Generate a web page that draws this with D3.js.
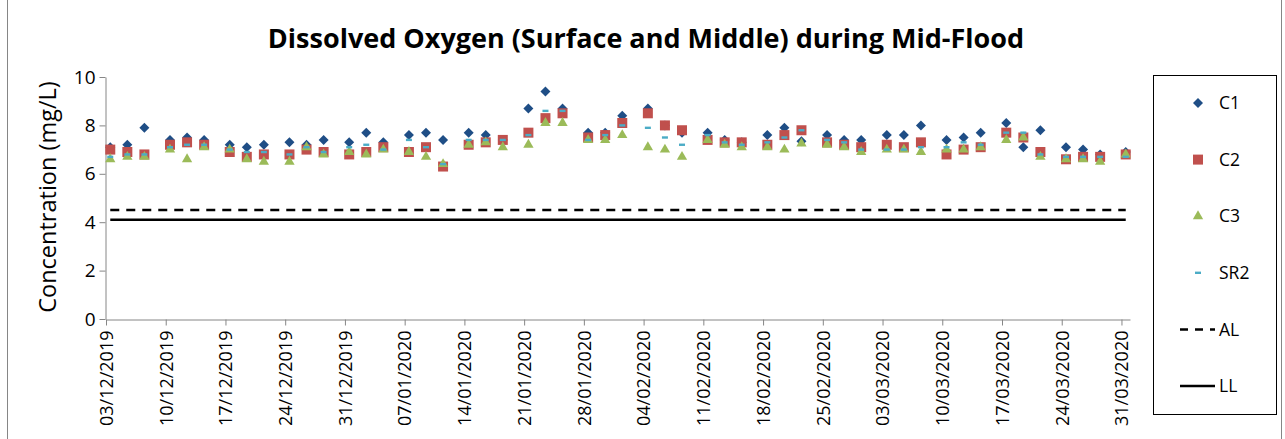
<!DOCTYPE HTML>
<html>
<head>
<meta charset="utf-8">
<script type="text/javascript" src="https://d3js.org/d3.v7.min.js"></script>
<style>
  body { margin: 0; background: #fff; }
  text { font-family: "Open Sans", sans-serif; fill: #000; }
</style>
</head>
<body>
<div id="chart"></div>
<script type="text/javascript">
// sampling dates (dd/mm/yyyy as on the sheet)
var sampleDates = ["03/12/2019","05/12/2019","07/12/2019","10/12/2019","12/12/2019","14/12/2019","17/12/2019","19/12/2019","21/12/2019",
  "24/12/2019","26/12/2019","28/12/2019","31/12/2019","02/01/2020","04/01/2020","07/01/2020","09/01/2020","11/01/2020",
  "14/01/2020","16/01/2020","18/01/2020","21/01/2020","23/01/2020","25/01/2020","28/01/2020","30/01/2020","01/02/2020",
  "04/02/2020","06/02/2020","08/02/2020","11/02/2020","13/02/2020","15/02/2020","18/02/2020","20/02/2020","22/02/2020",
  "25/02/2020","27/02/2020","29/02/2020","03/03/2020","05/03/2020","07/03/2020","10/03/2020","12/03/2020","14/03/2020",
  "17/03/2020","19/03/2020","21/03/2020","24/03/2020","26/03/2020","28/03/2020","31/03/2020"];

var c1 = [7.1,7.2,7.9,7.4,7.5,7.4,7.2,7.1,7.2,7.3,7.2,7.4,7.3,7.7,7.3,7.6,7.7,7.4,7.7,7.6,7.4,8.7,9.4,8.7,7.7,7.7,
  8.4,8.7,8.0,7.7,7.7,7.4,7.3,7.6,7.9,7.35,7.6,7.4,7.4,7.6,7.6,8.0,7.4,7.5,7.7,8.1,7.1,7.8,7.1,7.0,6.8,6.9];
var c2 = [7.0,6.9,6.8,7.2,7.3,7.2,6.9,6.7,6.8,6.8,7.0,6.9,6.8,6.9,7.1,6.9,7.1,6.3,7.2,7.3,7.4,7.7,8.3,8.5,7.5,7.6,
  8.1,8.5,8.0,7.8,7.4,7.3,7.3,7.2,7.6,7.8,7.3,7.2,7.1,7.2,7.1,7.3,6.8,7.0,7.1,7.7,7.5,6.9,6.6,6.7,6.7,6.8];
var c3 = [6.6,6.7,6.7,7.0,6.6,7.1,7.0,6.6,6.5,6.5,7.1,6.8,6.9,6.8,7.0,6.9,6.7,6.4,7.2,7.3,7.1,7.2,8.1,8.1,7.4,7.4,
  7.6,7.1,7.0,6.7,7.4,7.2,7.1,7.1,7.0,7.25,7.2,7.1,6.9,7.0,7.0,6.9,7.0,7.0,7.1,7.4,7.5,6.7,6.6,6.6,6.5,6.8];
var sr2 = [6.7,6.8,6.8,7.1,7.2,7.2,7.0,6.9,6.9,6.8,7.1,6.9,7.1,7.2,7.0,7.4,7.1,6.4,7.4,7.4,7.4,7.6,8.6,8.6,7.4,7.6,
  8.0,7.9,7.5,7.2,7.6,7.3,7.2,7.3,7.5,7.8,7.4,7.3,7.0,7.0,7.0,7.1,7.1,7.3,7.2,7.7,7.7,6.8,6.7,6.7,6.7,6.7];
var alLevel = 4.5;   // action level
var llLevel = 4.1;   // limit level
var yTicks = [0, 2, 4, 6, 8, 10];
var seriesNames = ["C1", "C2", "C3", "SR2", "AL", "LL"];

var parse = d3.timeParse("%d/%m/%Y");
var fmt = d3.timeFormat("%d/%m/%Y");
var dates = sampleDates.map(parse);

var W = 1285, H = 439;
var svg = d3.select("#chart").append("svg").attr("width", W).attr("height", H);

// outer chart frame
svg.append("rect").attr("x", 7.5).attr("y", -2).attr("width", 1274).attr("height", H + 4)
  .attr("fill", "none").attr("stroke", "#868686").attr("stroke-width", 1);

var x = d3.scaleTime().domain([parse("03/12/2019"), parse("01/04/2020")]).range([106, 1130]);
var y = d3.scaleLinear().domain([0, 10]).range([319, 77]);
// Excel date axis puts markers between tick marks (half a day in)
var xp = function(d) { return x(d3.timeHour.offset(d, 12)); };

svg.append("text").attr("x", 646).attr("y", 48).attr("text-anchor", "middle")
  .style("font-size", "27px").style("font-weight", "bold")
  .text("Dissolved Oxygen (Surface and Middle) during Mid-Flood");

// axes
var xTicks = d3.timeDay.range(parse("03/12/2019"), parse("01/04/2020"), 7);
var gx = svg.append("g").attr("transform", "translate(0,319.5)")
  .call(d3.axisBottom(x).tickValues(xTicks).tickFormat(fmt).tickSize(6).tickSizeOuter(0));
gx.select(".domain").attr("stroke", "#868686");
gx.selectAll(".tick line").attr("stroke", "#868686");
gx.selectAll(".tick text").style("font-size", "18px")
  .attr("transform", "rotate(-90)").attr("text-anchor", "end")
  .attr("x", -11).attr("y", 0).attr("dy", "0.35em");

var gy = svg.append("g").attr("transform", "translate(105.5,0)")
  .call(d3.axisLeft(y).tickValues(yTicks).tickSize(6).tickSizeOuter(0));
gy.select(".domain").attr("stroke", "#868686");
gy.selectAll(".tick line").attr("stroke", "#868686");
gy.selectAll(".tick text").style("font-size", "19px").attr("x", -10);

svg.append("text").attr("transform", "translate(56,197) rotate(-90)").attr("text-anchor", "middle")
  .style("font-size", "23.5px").text("Concentration (mg/L)");

// limit lines
var limLine = d3.line().x(function(d) { return xp(d); });
svg.append("path").datum(dates)
  .attr("d", limLine.y(y(alLevel)))
  .attr("fill", "none").attr("stroke", "#000").attr("stroke-width", 2.5).attr("stroke-dasharray", "9,7");
svg.append("path").datum(dates)
  .attr("d", limLine.y(y(llLevel)))
  .attr("fill", "none").attr("stroke", "#000").attr("stroke-width", 2.5);

// marker shapes
var shapes = {
  C1: { color: "#1F4E86", path: d3.symbol().type(d3.symbolSquare).size(50)(), rot: 45 },
  C2: { color: "#C0504D", path: d3.symbol().type(d3.symbolSquare).size(100)(), rot: 0 },
  C3: { color: "#9BBB59", path: d3.symbol().type(d3.symbolTriangle).size(46)(), rot: 0 },
  SR2: { color: "#4BACC6", path: "M-3,-1.2H3V1.2H-3Z", rot: 0 }
};

var allSeries = [["C1", c1], ["C2", c2], ["C3", c3], ["SR2", sr2]];
allSeries.forEach(function(s) {
  var sh = shapes[s[0]];
  svg.append("g").selectAll("path").data(s[1]).enter().append("path")
    .attr("d", sh.path)
    .attr("transform", function(v, i) {
      return "translate(" + xp(dates[i]) + "," + y(v) + ") rotate(" + sh.rot + ")";
    })
    .attr("fill", sh.color);
});

// legend
var lg = svg.append("g");
lg.append("rect").attr("x", 1153.5).attr("y", 75.5).attr("width", 123).attr("height", 339)
  .attr("fill", "#fff").attr("stroke", "#000").attr("stroke-width", 1);
var legY = d3.scalePoint().domain(seriesNames).range([103, 386]);
seriesNames.forEach(function(n) {
  var yy = legY(n);
  if (shapes[n]) {
    lg.append("path").attr("d", shapes[n].path)
      .attr("transform", "translate(1198," + yy + ") rotate(" + shapes[n].rot + ")")
      .attr("fill", shapes[n].color);
  } else {
    lg.append("line").attr("x1", 1180).attr("x2", 1215).attr("y1", yy).attr("y2", yy)
      .attr("stroke", "#000").attr("stroke-width", 2.5)
      .attr("stroke-dasharray", n === "AL" ? "8,7" : null);
  }
  lg.append("text").attr("x", 1219).attr("y", yy).attr("dy", "0.35em")
    .style("font-size", "17.5px").text(n);
});
</script>
</body>
</html>
